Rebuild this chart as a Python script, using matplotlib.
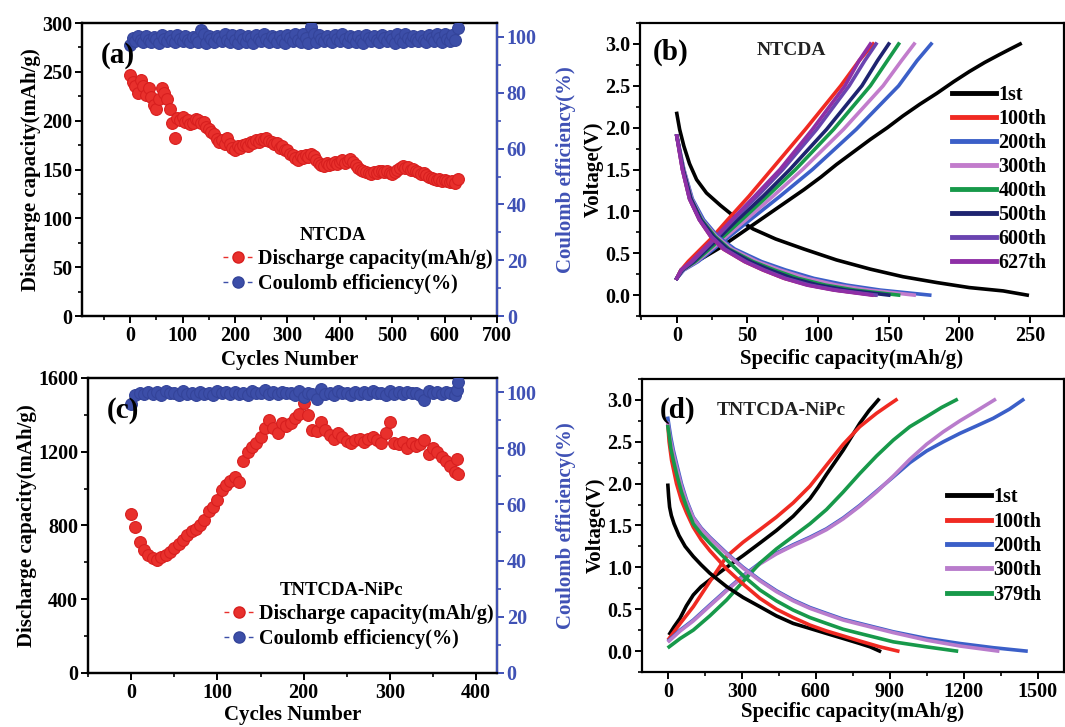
import matplotlib
matplotlib.use('Agg')
import matplotlib.pyplot as plt
from matplotlib.lines import Line2D
from matplotlib.ticker import MultipleLocator, FormatStrFormatter

plt.rcParams['font.family'] = ['Liberation Serif', 'DejaVu Serif']
plt.rcParams['font.weight'] = 'bold'
plt.rcParams['axes.labelweight'] = 'bold'

RED = '#e8302c'
BLUE = '#3c4ea8'
AXBLUE = '#3f51b5'

# ---------------- (a) NTCDA cycling ----------------
cyc_a = list(range(0, 630, 5))
cap_a = [247, 240, 236, 228, 242, 236, 226, 234, 224, 216,
         212, 222, 234, 228, 222, 212, 198, 182, 203, 201,
         204, 199, 201, 197, 198, 202, 201, 198, 199, 194,
         192, 188, 186, 181, 178, 180, 176, 182, 176, 172,
         170, 174, 172, 175, 176, 174, 178, 177, 180, 178,
         181, 180, 182, 179, 178, 176, 177, 172, 174, 170,
         170, 166, 165, 162, 160, 164, 162, 165, 163, 166,
         164, 160, 157, 155, 154, 157, 155, 156, 158, 156,
         158, 160, 157, 159, 161, 158, 155, 152, 150, 148,
         147, 146, 145, 147, 146, 148, 149, 147, 148, 146,
         145, 147, 150, 152, 154, 152, 153, 150, 151, 148,
         147, 145, 146, 144, 142, 141, 140, 139, 140, 138,
         139, 138, 137, 138, 136, 140]
ce_a = [97.2, 99.6, 98.4, 100.3, 99.1, 98.2, 100.5, 99.0, 98.3, 100.1,
        99.4, 98.0, 100.6, 99.2, 98.4, 100.2, 98.8, 98.1, 100.8, 99.3,
        98.6, 100.4, 99.0, 98.2, 100.1, 99.5, 98.3, 102.6, 100.9, 97.9,
        100.5, 99.2, 98.1, 100.3, 99.7, 98.4, 100.9, 99.1, 98.2, 100.6,
        99.0, 97.8, 100.7, 99.3, 98.3, 100.4, 99.6, 98.0, 100.8, 99.2,
        98.5, 100.9, 99.4, 98.1, 100.5, 99.8, 98.2, 100.3, 99.0, 97.9,
        100.6, 99.5, 98.4, 100.9, 99.1, 98.3, 101.0, 99.6, 98.0, 103.5,
        101.2, 98.2, 100.7, 99.3, 98.5, 100.4, 99.0, 98.1, 100.8, 99.4,
        98.6, 101.0, 99.2, 98.2, 100.5, 99.7, 98.3, 100.2, 99.0, 97.9,
        100.6, 99.5, 98.4, 100.3, 99.1, 98.2, 100.7, 99.6, 98.5, 100.4,
        99.2, 98.0, 100.9, 99.4, 98.3, 101.1, 99.8, 98.4, 100.5, 99.3,
        98.6, 100.2, 99.0, 98.1, 100.8, 99.5, 98.4, 101.0, 99.7, 98.3,
        100.9, 99.2, 98.5, 100.6, 99.0, 103.2]

# ---------------- (c) TNTCDA-NiPc cycling ----------------
cyc_c = list(range(0, 380, 5)) + [378, 379]
cap_c = [862, 790, 710, 665, 640, 625, 612, 628, 642, 658,
         678, 700, 722, 748, 768, 780, 800, 832, 880, 898,
         938, 990, 1020, 1040, 1062, 1035, 1150, 1200, 1228, 1250,
         1282, 1330, 1372, 1330, 1300, 1355, 1338, 1358, 1385, 1405,
         1462, 1400, 1320, 1310, 1362, 1318, 1288, 1268, 1300, 1278,
         1258, 1250, 1262, 1268, 1252, 1270, 1282, 1262, 1248, 1300,
         1362, 1250, 1240, 1252, 1222, 1250, 1232, 1240, 1262, 1190,
         1220, 1200, 1172, 1150, 1122, 1092, 1160, 1080]
ce_c = [95.8, 98.9, 99.6, 99.2, 100.1, 99.4, 99.9, 99.1, 100.2, 99.5,
        99.8, 99.0, 100.3, 99.4, 99.7, 99.1, 100.0, 99.3, 99.8, 99.0,
        100.2, 99.5, 99.9, 99.2, 100.1, 99.4, 99.8, 99.0, 100.3, 99.5,
        99.7, 100.8, 99.2, 99.9, 99.3, 100.1, 99.5, 99.8, 99.0, 100.2,
        98.4, 99.8, 99.2, 97.6, 100.9, 99.4, 99.8, 99.1, 100.2, 99.5,
        99.7, 99.0, 100.1, 99.3, 99.9, 99.2, 100.3, 99.6, 99.8, 99.1,
        100.2, 99.4, 99.9, 99.2, 100.0, 99.5, 99.8, 98.9, 97.0, 100.4,
        99.6, 99.9, 99.2, 100.1, 99.5, 99.0, 100.6, 103.5]

# ---------------- (b) NTCDA charge/discharge ----------------
b_labels = ['1st', '100th', '200th', '300th', '400th', '500th', '600th', '627th']
b_colors = ['#000000', '#f02a22', '#3b5fc8', '#c27ccc', '#17994a', '#1e2470', '#6a44b0', '#8e2fa6']
b_chg1_q = [0, 3, 8, 18, 30, 42, 54, 66, 78, 90, 102, 113, 125, 137, 149, 160, 172, 184, 196, 207, 218, 228, 236, 243]
b_chg1_v = [0.2, 0.3, 0.36, 0.44, 0.56, 0.70, 0.84, 0.98, 1.12, 1.26, 1.41, 1.56, 1.71, 1.86, 2.0, 2.14, 2.28, 2.41, 2.55, 2.67, 2.78, 2.87, 2.94, 3.0]
b_dis1_q = [0, 2, 5, 9, 14, 21, 31, 42, 54, 70, 90, 113, 137, 160, 184, 207, 231, 248]
b_dis1_v = [2.17, 1.98, 1.78, 1.57, 1.38, 1.22, 1.07, 0.92, 0.79, 0.67, 0.55, 0.42, 0.31, 0.22, 0.15, 0.09, 0.05, 0.0]
# later cycles: capacity at each voltage level
b_chg_v = [0.2, 0.3, 0.4, 0.67, 0.9, 1.18, 1.5, 1.98, 2.5, 2.8, 3.0]
b_chg_q = {
    '100th': [0, 3, 8, 24, 36, 51, 67, 91, 116, 129, 139],
    '200th': [0, 5, 15, 35, 52, 73, 96, 127, 157, 170, 180],
    '300th': [0, 4.5, 14, 33, 49, 68, 89, 118, 146, 159, 168],
    '400th': [0, 4, 13, 31, 46, 64, 84, 111, 137, 149, 157],
    '500th': [0, 4, 12, 29, 43, 61, 80, 106, 131, 142, 150],
    '600th': [0, 3.5, 11, 27, 40, 57, 75, 99, 122, 133, 141],
    '627th': [0, 3, 10, 26, 39, 55, 73, 96, 119, 129, 137],
}
b_dis_v = [1.9, 1.5, 1.15, 0.9, 0.7, 0.55, 0.4, 0.3, 0.2, 0.12, 0.06, 0.0]
b_dis_q = {
    '100th': [0, 4, 9, 16, 24, 33, 48, 61, 76, 93, 112, 140],
    '200th': [0, 5, 11, 19, 29, 41, 60, 77, 97, 120, 144, 179],
    '300th': [0, 5, 10.5, 18, 28, 39, 57, 73, 92, 113, 136, 168],
    '400th': [0, 4.5, 10, 17.5, 27, 37, 54, 69, 86, 105, 126, 157],
    '500th': [0, 4.5, 10, 17, 26, 36, 52, 66, 82, 100, 120, 150],
    '600th': [0, 4, 9, 16, 24.5, 34, 49, 62, 77, 94, 113, 141],
    '627th': [0, 4, 9, 16, 24, 33, 48, 61, 76, 92, 111, 138],
}

# ---------------- (d) TNTCDA-NiPc charge/discharge ----------------
d_labels = ['1st', '100th', '200th', '300th', '379th']
d_colors = ['#000000', '#f02a22', '#3b5fc8', '#b97ccc', '#17994a']
d_chg = {
    '1st':   ([8, 25, 49, 75, 103, 135, 170, 238, 305, 373, 440, 508, 576, 610, 643, 711, 778, 815, 853],
              [0.21, 0.29, 0.39, 0.54, 0.67, 0.77, 0.85, 1.0, 1.14, 1.29, 1.44, 1.61, 1.82, 1.96, 2.11, 2.40, 2.72, 2.87, 3.0]),
    '100th': ([5, 50, 103, 170, 238, 305, 373, 440, 508, 576, 643, 711, 778, 846, 890, 925],
              [0.15, 0.33, 0.53, 0.83, 1.13, 1.3, 1.45, 1.6, 1.77, 1.97, 2.22, 2.47, 2.68, 2.84, 2.93, 3.0]),
    '200th': ([5, 50, 103, 170, 238, 305, 373, 440, 508, 576, 643, 711, 778, 846, 914, 981,
               1049, 1117, 1184, 1252, 1319, 1385, 1439],
              [0.13, 0.25, 0.37, 0.55, 0.73, 0.9, 1.05, 1.17, 1.27, 1.36, 1.46, 1.59, 1.74, 1.91, 2.08, 2.25,
               2.39, 2.5, 2.6, 2.69, 2.78, 2.89, 3.0]),
    '300th': ([5, 50, 103, 170, 238, 305, 373, 440, 508, 576, 643, 711, 778, 846, 914, 981,
               1049, 1117, 1184, 1252, 1324],
              [0.12, 0.24, 0.36, 0.54, 0.72, 0.89, 1.04, 1.16, 1.26, 1.35, 1.45, 1.58, 1.73, 1.9, 2.09, 2.29,
               2.47, 2.62, 2.75, 2.87, 3.0]),
    '379th': ([5, 50, 103, 170, 238, 305, 373, 440, 508, 576, 643, 711, 778, 846, 914, 981, 1049, 1110, 1169],
              [0.05, 0.15, 0.25, 0.42, 0.61, 0.83, 1.05, 1.22, 1.37, 1.52, 1.69, 1.9, 2.12, 2.33, 2.52, 2.68,
               2.80, 2.91, 3.0]),
}
d_dis = {
    '1st':   ([0, 3, 7, 14, 25, 45, 70, 103, 135, 170, 238, 305, 373, 440, 508, 576, 643, 711, 778, 820, 858],
              [1.98, 1.85, 1.72, 1.62, 1.52, 1.38, 1.25, 1.13, 1.03, 0.93, 0.77, 0.64, 0.53, 0.42, 0.33, 0.27,
               0.21, 0.15, 0.09, 0.05, 0.0]),
    '100th': ([0, 5, 15, 35, 55, 76, 103, 135, 170, 238, 305, 373, 440, 508, 576, 643, 711, 778, 860, 932],
              [2.7, 2.5, 2.28, 2.0, 1.8, 1.65, 1.48, 1.33, 1.2, 0.98, 0.8, 0.63, 0.5, 0.4, 0.31, 0.24, 0.18,
               0.12, 0.05, 0.0]),
    '200th': ([0, 5, 12, 22, 35, 55, 76, 103, 135, 170, 238, 305, 373, 440, 508, 576, 643, 711, 778,
               914, 1049, 1184, 1319, 1452],
              [2.78, 2.68, 2.55, 2.4, 2.24, 2.0, 1.8, 1.6, 1.47, 1.36, 1.17, 1.0, 0.85, 0.72, 0.61, 0.52, 0.45,
               0.38, 0.33, 0.23, 0.15, 0.09, 0.04, 0.0]),
    '300th': ([0, 5, 12, 22, 35, 55, 76, 103, 135, 170, 238, 305, 373, 440, 508, 576, 643, 711, 778,
               914, 1049, 1184, 1337],
              [2.72, 2.62, 2.5, 2.36, 2.2, 1.97, 1.78, 1.59, 1.46, 1.35, 1.16, 0.99, 0.84, 0.71, 0.6, 0.51, 0.44,
               0.37, 0.32, 0.22, 0.13, 0.06, 0.0]),
    '379th': ([0, 5, 12, 22, 35, 55, 76, 103, 135, 170, 238, 305, 373, 440, 508, 576, 643, 711, 778,
               914, 1049, 1170],
              [2.68, 2.58, 2.42, 2.28, 2.12, 1.9, 1.72, 1.52, 1.4, 1.29, 1.09, 0.9, 0.73, 0.6, 0.49, 0.4, 0.33,
               0.26, 0.21, 0.11, 0.05, 0.0]),
}

fig = plt.figure(figsize=(10.65, 7.27), dpi=100)


def style(ax, fs=14.5):
    for s in ax.spines.values():
        s.set_linewidth(1.6)
    ax.tick_params(which='major', direction='out', length=5, width=1.4, labelsize=fs, pad=2)
    ax.tick_params(which='minor', direction='out', length=3, width=1.2)
    for lab in ax.get_xticklabels() + ax.get_yticklabels():
        lab.set_fontweight('bold')


def cycling(rect, cyc, cap, ce, ylim, ymaj, ymin, xlim, xmaj, xmin, tag, name, name_xy, leg_xy, xpad):
    ax = fig.add_axes(rect)
    ax2 = ax.twinx()
    ax.plot(cyc, cap, 'o', ms=8.5, mfc=RED, mec='#d81f1f', mew=0.8, zorder=3)
    ax2.plot(cyc, ce, 'o', ms=8.5, mfc=BLUE, mec='#34449a', mew=0.8, zorder=3)
    ax.set_xlim(*xlim)
    ax.set_ylim(*ylim)
    ax2.set_ylim(0, 105)
    ax.xaxis.set_major_locator(MultipleLocator(xmaj))
    ax.xaxis.set_minor_locator(MultipleLocator(xmin))
    ax.yaxis.set_major_locator(MultipleLocator(ymaj))
    ax.yaxis.set_minor_locator(MultipleLocator(ymin))
    ax2.yaxis.set_major_locator(MultipleLocator(20))
    ax2.yaxis.set_minor_locator(MultipleLocator(10))
    style(ax)
    style(ax2)
    ax2.spines['right'].set_color(AXBLUE)
    ax2.tick_params(axis='y', which='both', colors=AXBLUE, labelcolor=AXBLUE)
    ax.set_xlabel('Cycles Number', fontsize=15, labelpad=xpad)
    ax.set_ylabel('Discharge capacity(mAh/g)', fontsize=15, labelpad=1)
    ax2.set_ylabel('Coulomb efficiency(%)', fontsize=15, color=AXBLUE, rotation=90, labelpad=14)
    ax2.text(0.045, 0.89, tag, transform=ax.transAxes, fontsize=21, va='center', ha='left', zorder=10)
    ax2.text(name_xy[0], name_xy[1], name, transform=ax.transAxes, fontsize=13.5, ha='center', va='center')
    h = [Line2D([], [], color=RED, ls='--', dashes=(3.5, 14), lw=1, marker='o', ms=8, mfc=RED, mec='#d81f1f'),
         Line2D([], [], color=BLUE, ls='--', dashes=(3.5, 14), lw=1, marker='o', ms=8, mfc=BLUE, mec='#34449a')]
    ax2.legend(h, ['Discharge capacity(mAh/g)', 'Coulomb efficiency(%)'], loc='center left',
               bbox_to_anchor=leg_xy, frameon=False, fontsize=14.5, handlelength=1.45, handletextpad=0.3,
               borderpad=0, borderaxespad=0, labelspacing=0.22, numpoints=1)
    return ax


cycling([0.077, 0.5653, 0.3897, 0.403], cyc_a, cap_a, ce_a, (0, 300), 50, 25,
        (-92, 700), 100, 50, '(a)', 'NTCDA', (0.605, 0.276), (0.34, 0.152), 3)
cycling([0.0826, 0.0743, 0.384, 0.4058], cyc_c, cap_c, ce_c, (0, 1600), 400, 200,
        (-50, 424), 100, 50, '(c)', 'TNTCDA-NiPc', (0.62, 0.281), (0.333, 0.158), 2)

# (b)
axb = fig.add_axes([0.601, 0.5653, 0.398, 0.403])
axb.plot(b_chg1_q, b_chg1_v, color=b_colors[0], lw=2.6, label=b_labels[0])
axb.plot(b_dis1_q, b_dis1_v, color=b_colors[0], lw=2.6)
for lab, col in zip(b_labels[1:], b_colors[1:]):
    axb.plot(b_chg_q[lab], b_chg_v, color=col, lw=2.6, label=lab)
for lab, col in zip(b_labels[1:], b_colors[1:]):
    axb.plot(b_dis_q[lab], b_dis_v, color=col, lw=2.6)
axb.set_xlim(-26, 274)
axb.set_ylim(-0.25, 3.25)
axb.xaxis.set_major_locator(MultipleLocator(50))
axb.xaxis.set_minor_locator(MultipleLocator(25))
axb.yaxis.set_major_locator(MultipleLocator(0.5))
axb.yaxis.set_minor_locator(MultipleLocator(0.25))
axb.yaxis.set_major_formatter(FormatStrFormatter('%.1f'))
style(axb)
axb.set_xlabel('Specific capacity(mAh/g)', fontsize=15, labelpad=2)
axb.set_ylabel('Voltage(V)', fontsize=15, labelpad=1)
axb.text(0.031, 0.90, '(b)', transform=axb.transAxes, fontsize=21, va='center')
axb.text(0.276, 0.908, 'NTCDA', transform=axb.transAxes, fontsize=14, va='center', color='#222222')
axb.legend(loc='center left', bbox_to_anchor=(0.736, 0.468), frameon=False, fontsize=14.5,
           handlelength=2.2, handletextpad=0.1, borderpad=0, borderaxespad=0, labelspacing=0.2)
for line in axb.get_legend().get_lines():
    line.set_linewidth(3.5)

# (d)
axd = fig.add_axes([0.6028, 0.0757, 0.396, 0.403])
for lab, col in zip(d_labels, d_colors):
    q, v = d_chg[lab]
    axd.plot(q, v, color=col, lw=2.6, label=lab)
for lab, col in zip(d_labels, d_colors):
    q, v = d_dis[lab]
    axd.plot(q, v, color=col, lw=2.6)
axd.set_xlim(-105, 1605)
axd.set_ylim(-0.25, 3.25)
axd.xaxis.set_major_locator(MultipleLocator(300))
axd.xaxis.set_minor_locator(MultipleLocator(150))
axd.yaxis.set_major_locator(MultipleLocator(0.5))
axd.yaxis.set_minor_locator(MultipleLocator(0.25))
axd.yaxis.set_major_formatter(FormatStrFormatter('%.1f'))
style(axd)
axd.set_xlabel('Specific capacity(mAh/g)', fontsize=15, labelpad=0)
axd.set_ylabel('Voltage(V)', fontsize=15, labelpad=1)
axd.text(0.043, 0.894, '(d)', transform=axd.transAxes, fontsize=21, va='center')
axd.text(0.178, 0.894, 'TNTCDA-NiPc', transform=axd.transAxes, fontsize=14, va='center', color='#222222')
axd.legend(loc='center left', bbox_to_anchor=(0.723, 0.43), frameon=False, fontsize=14.5,
           handlelength=2.2, handletextpad=0.1, borderpad=0, borderaxespad=0, labelspacing=0.22)
for line in axd.get_legend().get_lines():
    line.set_linewidth(3.5)

fig.savefig('out.png', dpi=100)
